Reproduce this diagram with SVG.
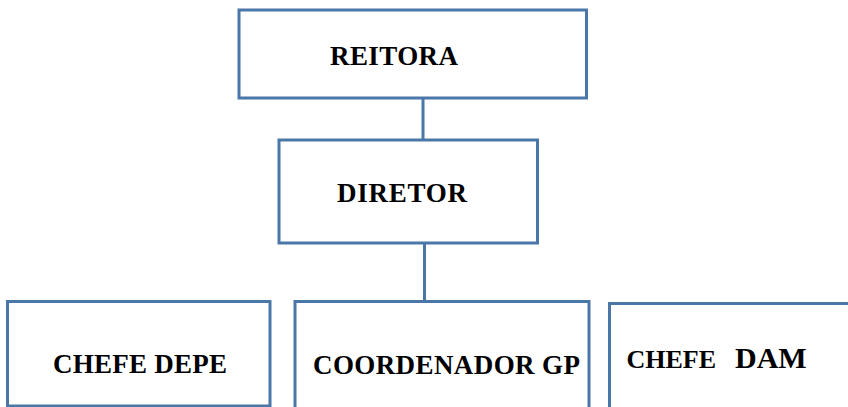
<svg xmlns="http://www.w3.org/2000/svg" width="848" height="407" viewBox="0 0 848 407">
<style>
.box{fill:#fff;stroke:#4a76a8;stroke-width:3}
.conn{stroke:#4a76a8;stroke-width:3;fill:none}
.t{font-family:"Liberation Serif","Times New Roman",serif;font-weight:bold;font-size:27px;fill:#000}
</style>
<rect width="848" height="407" fill="#fff"/>
<g id="connectors">
<line class="conn" x1="423" y1="98" x2="423" y2="140"/>
<line class="conn" x1="424.5" y1="243" x2="424.5" y2="303"/>
</g>
<g id="reitora">
<rect class="box" x="239" y="10" width="347.5" height="88"/>
<text class="t" x="330" y="65" textLength="128">REITORA</text>
</g>
<g id="diretor">
<rect class="box" x="279" y="140" width="258.5" height="103"/>
<text class="t" x="337" y="202" textLength="130">DIRETOR</text>
</g>
<g id="chefe-depe">
<rect class="box" x="7.5" y="301.5" width="262.5" height="104.5"/>
<text class="t" x="53" y="373" textLength="174">CHEFE DEPE</text>
</g>
<g id="coordenador-gp">
<rect class="box" x="295" y="301.5" width="294" height="120"/>
<text class="t" x="313" y="374" textLength="267">COORDENADOR GP</text>
</g>
<g id="chefe-dam">
<rect class="box" x="609.5" y="303.5" width="260" height="120"/>
<text class="t" x="626.5" y="368"><tspan font-size="26">CHEFE</tspan><tspan font-size="30" x="735">DAM</tspan></text>
</g>
</svg>
